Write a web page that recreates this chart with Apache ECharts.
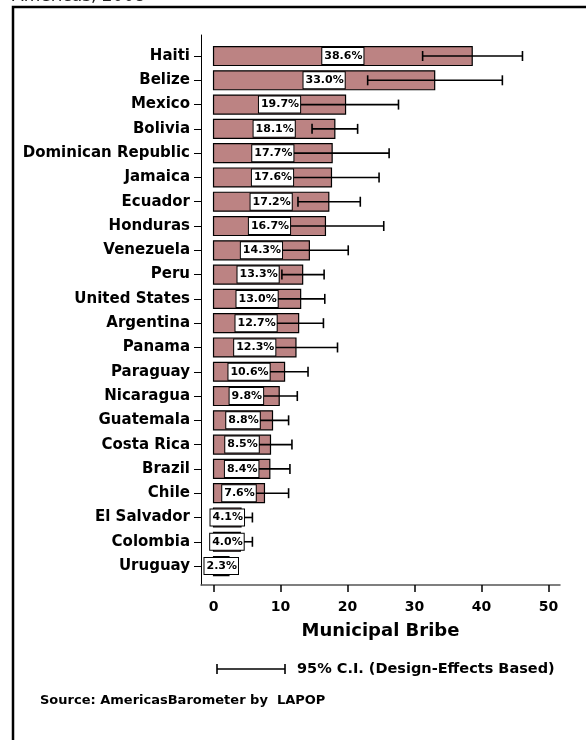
<!DOCTYPE html>
<html>
<head>
<meta charset="utf-8">
<script src="https://cdn.jsdelivr.net/npm/echarts@6/dist/echarts.min.js"></script>
<style>
  html, body { margin: 0; padding: 0; background: #fff; }
  #chart { width: 586px; height: 740px; }
</style>
</head>
<body>
<div id="chart"></div>
<script>
// Municipal bribe victimization, Americas 2008
const countries = ["Haiti", "Belize", "Mexico", "Bolivia", "Dominican Republic", "Jamaica", "Ecuador", "Honduras",
    "Venezuela", "Peru", "United States", "Argentina", "Panama", "Paraguay", "Nicaragua", "Guatemala",
    "Costa Rica", "Brazil", "Chile", "El Salvador", "Colombia", "Uruguay"];
const values = [38.6, 33.0, 19.7, 18.1, 17.7, 17.6, 17.2, 16.7, 14.3, 13.3, 13.0, 12.7, 12.3, 10.6, 9.8, 8.8,
    8.5, 8.4, 7.6, 4.1, 4.0, 2.3];
const ciLow = [31.2, 23.0, 11.8, 14.7, 9.2, 10.5, 12.6, 8.0, 8.5, 10.2, 9.4, 9.0, 6.1, 7.1, 7.1, 6.4,
    5.3, 5.4, 4.0, 2.4, 2.2, 1.1];
const ciHigh = [46.1, 43.1, 27.6, 21.5, 26.2, 24.7, 21.9, 25.4, 20.1, 16.5, 16.6, 16.4, 18.5, 14.1, 12.5, 11.2,
    11.7, 11.4, 11.2, 5.8, 5.8, 3.5];
const xTicks = [0, 10, 20, 30, 40, 50];

const FONT = "'DejaVu Sans', Arial, sans-serif";
const rowIdx = countries.map((_, i) => i);

const barData = values.map((v, i) => [v, i]);
const ciData = values.map((v, i) => [ciLow[i], ciHigh[i], i]);
const labelData = values.map((v, i) => [v, i]);

const chart = echarts.init(document.getElementById("chart"), null, { renderer: "canvas" });

const option = {
    animation: false,
    grid: { left: 201, right: 26, top: 35, bottom: 155 },
    xAxis: {
        type: "value",
        min: -1.87,
        max: 51.7,
        splitLine: { show: false },
        axisLine: { show: true, onZero: false, lineStyle: { color: "#555", width: 1.5 } },
        axisTick: { show: true, customValues: xTicks, length: 7, lineStyle: { color: "#000", width: 1.5 } },
        axisLabel: {
            customValues: xTicks,
            color: "#000",
            fontFamily: FONT,
            fontWeight: "bold",
            fontSize: 14,
            margin: 15
        },
        name: "Municipal Bribe",
        nameLocation: "middle",
        nameGap: 37,
        nameTextStyle: { color: "#000", fontFamily: FONT, fontWeight: "bold", fontSize: 18 }
    },
    yAxis: {
        type: "value",
        inverse: true,
        min: -0.865,
        max: 21.78,
        splitLine: { show: false },
        axisLine: { show: true, onZero: false, lineStyle: { color: "#000", width: 1 } },
        axisTick: { show: true, customValues: rowIdx, length: 7, lineStyle: { color: "#000", width: 1 } },
        axisLabel: {
            customValues: rowIdx,
            formatter: v => countries[v] || "",
            color: "#000",
            fontFamily: FONT,
            fontWeight: "bold",
            fontSize: 15,
            margin: 11
        }
    },
    series: [
        {
            type: "custom",
            name: "bars",
            z: 2,
            data: barData,
            renderItem: function (params, api) {
                const v = api.value(0);
                const idx = api.value(1);
                const p0 = api.coord([0, idx]);
                const p1 = api.coord([v, idx]);
                const h = api.size([0, 1])[1] * 0.78;
                return {
                    type: "rect",
                    shape: { x: p0[0], y: p0[1] - h / 2, width: p1[0] - p0[0], height: h },
                    style: { fill: "#bc8383", stroke: "#000", lineWidth: 1.2 }
                };
            }
        },
        {
            type: "custom",
            name: "ci",
            z: 3,
            data: ciData,
            renderItem: function (params, api) {
                const idx = api.value(2);
                const a = api.coord([api.value(0), idx]);
                const b = api.coord([api.value(1), idx]);
                const cap = 5;
                const st = { stroke: "#000", lineWidth: 1.6 };
                return {
                    type: "group",
                    children: [
                        { type: "line", shape: { x1: a[0], y1: a[1], x2: b[0], y2: b[1] }, style: st },
                        { type: "line", shape: { x1: a[0], y1: a[1] - cap, x2: a[0], y2: a[1] + cap }, style: st },
                        { type: "line", shape: { x1: b[0], y1: b[1] - cap, x2: b[0], y2: b[1] + cap }, style: st }
                    ]
                };
            }
        },
        {
            type: "custom",
            name: "labels",
            z: 4,
            data: labelData,
            renderItem: function (params, api) {
                const v = api.value(0);
                const idx = api.value(1);
                const c = api.coord([v / 2, idx]);
                return {
                    type: "text",
                    x: c[0],
                    y: c[1],
                    style: {
                        text: v.toFixed(1) + "%",
                        font: "bold 11px " + FONT,
                        fill: "#000",
                        align: "center",
                        verticalAlign: "middle",
                        backgroundColor: "#fff",
                        borderColor: "#000",
                        borderWidth: 1,
                        padding: [3, 1, 2, 2]
                    }
                };
            }
        }
    ],
    graphic: [
        {
            type: "text",
            left: 12,
            top: -11.5,
            style: { text: "Americas, 2008", font: "17px " + FONT, fill: "#222" }
        },
        {
            type: "rect",
            shape: { x: 13, y: 7, width: 600, height: 760 },
            style: { fill: "none", stroke: "#000", lineWidth: 2.5 },
            silent: true
        },
        {
            type: "group",
            children: [
                { type: "line", shape: { x1: 217, y1: 669, x2: 285, y2: 669 }, style: { stroke: "#000", lineWidth: 1.6 } },
                { type: "line", shape: { x1: 217, y1: 664, x2: 217, y2: 674 }, style: { stroke: "#000", lineWidth: 1.6 } },
                { type: "line", shape: { x1: 285, y1: 664, x2: 285, y2: 674 }, style: { stroke: "#000", lineWidth: 1.6 } },
                {
                    type: "text",
                    x: 297,
                    y: 669,
                    style: { text: "95% C.I. (Design-Effects Based)", font: "bold 14.5px " + FONT, fill: "#000", verticalAlign: "middle" }
                }
            ]
        },
        {
            type: "text",
            left: 40,
            top: 694,
            style: { text: "Source: AmericasBarometer by  LAPOP", font: "bold 13px " + FONT, fill: "#000" }
        }
    ]
};

chart.setOption(option);
</script>
</body>
</html>
